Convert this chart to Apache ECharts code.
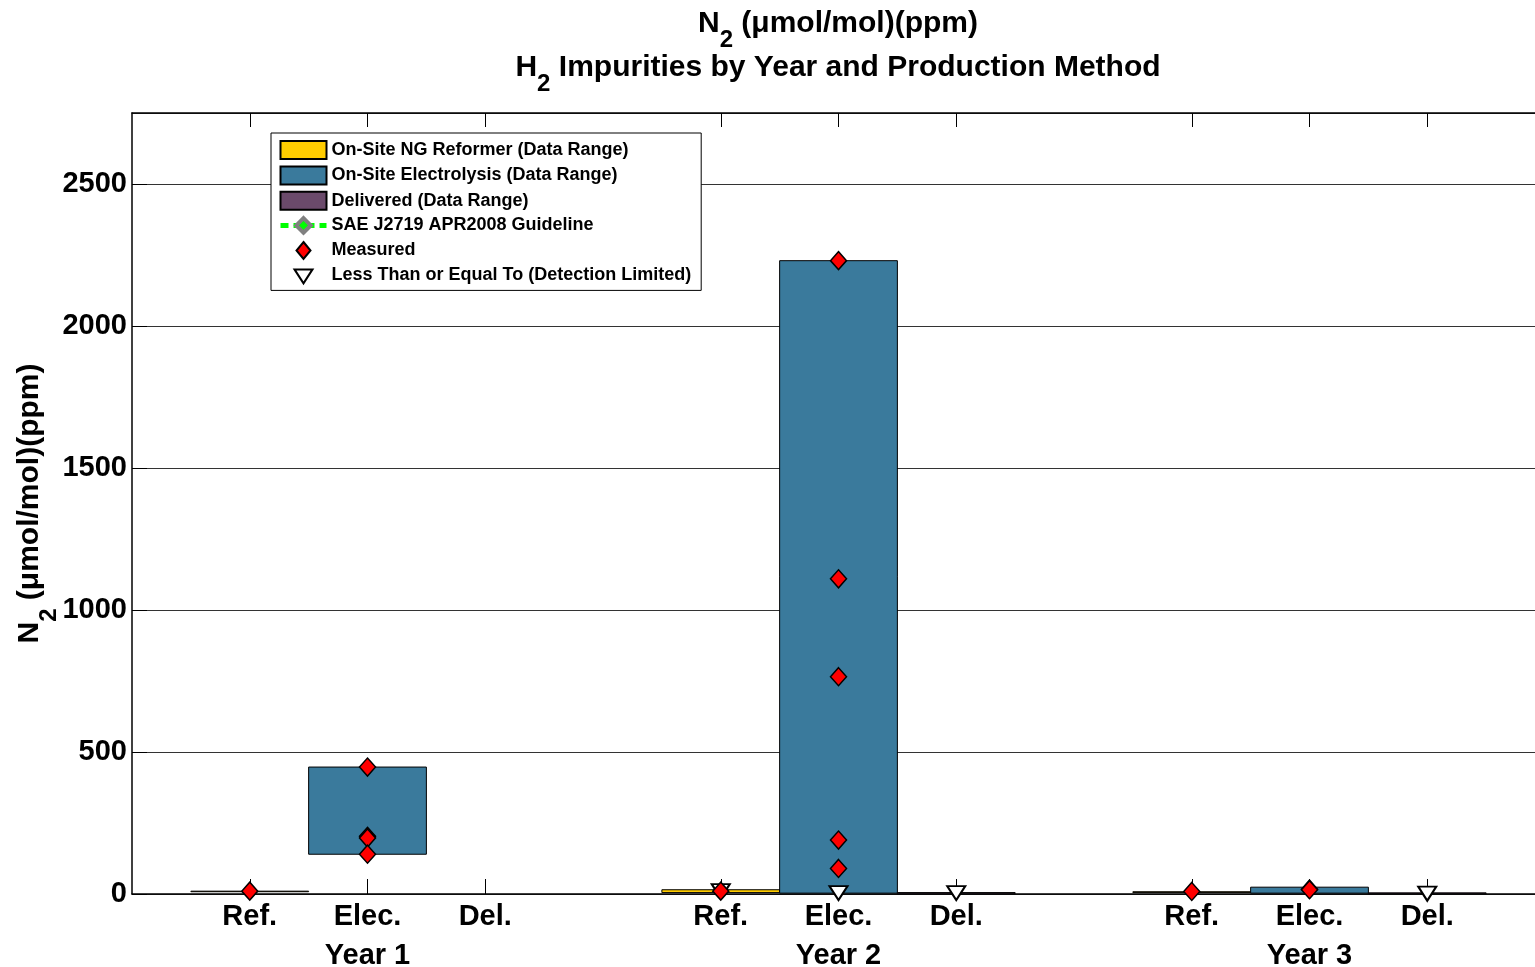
<!DOCTYPE html>
<html>
<head>
<meta charset="utf-8">
<script src="https://cdn.jsdelivr.net/npm/echarts@6/dist/echarts.min.js"></script>
<style>
html,body{margin:0;padding:0;background:#fff;}
#chart{width:1535px;height:967px;}
</style>
</head>
<body>
<div id="chart"></div>
<script>
// ---- data ----
const groupLabels = ['Year 1', 'Year 2', 'Year 3'];
const methodLabels = ['Ref.', 'Elec.', 'Del.'];
const refPos = [1, 5, 9];
const elecPos = [2, 6, 10];
const delPos = [3, 7, 11];
const yearPos = [2, 6, 10];
// [low, high] per year
const reformerRange = [[8, 10], [5, 15], [5, 8]];
const electrolysisRange = [[140, 447], [3, 2230], [3, 24]];
const deliveredRange = [null, [1, 5], [1, 4]];
// measured values: [position, value]
const measuredPoints = [
  [1, 10],
  [2, 447], [2, 203], [2, 197], [2, 140],
  [5, 10],
  [6, 2230], [6, 1110], [6, 765], [6, 190], [6, 90],
  [9, 9],
  [10, 17], [10, 15]
];
// detection limited (<=) values: [position, value]
const detectionPoints = [
  [5, 10], [6, 3], [7, 3], [11, 1]
];

const FONT = 'Liberation Sans, Arial, sans-serif';
const tickVals = refPos.concat(elecPos, delPos).sort((a, b) => a - b);
function methodName(v) {
  if (refPos.includes(v)) return methodLabels[0];
  if (elecPos.includes(v)) return methodLabels[1];
  if (delPos.includes(v)) return methodLabels[2];
  return '';
}

function rangeData(pos, ranges) {
  const out = [];
  ranges.forEach((r, i) => { if (r) out.push([pos[i], r[0], r[1]]); });
  return out;
}
function makeRangeSeries(name, color, pos, ranges) {
  return {
    name: name,
    type: 'custom',
    itemStyle: { color: color, borderColor: '#000', borderWidth: 1 },
    data: rangeData(pos, ranges),
    z: 2,
    renderItem: function (params, api) {
      const x = api.value(0), lo = api.value(1), hi = api.value(2);
      const p1 = api.coord([x - 0.5, hi]);
      const p2 = api.coord([x + 0.5, lo]);
      return {
        type: 'rect',
        shape: { x: p1[0], y: p1[1], width: p2[0] - p1[0], height: Math.max(p2[1] - p1[1], 0.5) },
        style: { fill: color, stroke: '#000', lineWidth: 1 }
      };
    }
  };
}

const chart = echarts.init(document.getElementById('chart'));
const titleMain = { fontSize: 30, fontWeight: 'bold', fontFamily: FONT, color: '#000', verticalAlign: 'top', lineHeight: 44 };
const titleSub = { fontSize: 24, fontWeight: 'bold', fontFamily: FONT, color: '#000', verticalAlign: 'top', padding: [19, 0, 0, 0], lineHeight: 44 };
const nameMain = { fontSize: 30, fontWeight: 'bold', fontFamily: FONT, color: '#000', verticalAlign: 'top' };
const nameSub = { fontSize: 24, fontWeight: 'bold', fontFamily: FONT, color: '#000', verticalAlign: 'top', padding: [22, 0, 0, 0] };
const axisFont = { fontSize: 29, fontWeight: 'bold', fontFamily: FONT, color: '#000' };

const option = {
  animation: false,
  backgroundColor: '#fff',
  title: {
    left: 838,
    top: 9,
    padding: 0,
    textAlign: 'center',
    text: '{b|N}{s|2}{b| (\u03bcmol/mol)(ppm)}\n{b|H}{s|2}{b| Impurities by Year and Production Method}',
    textStyle: { rich: { b: titleMain, s: titleSub } }
  },
  grid: { left: 132, right: -10, top: 113, bottom: 73, containLabel: false, outerBoundsMode: 'none' },
  legend: {
    orient: 'vertical',
    left: 271,
    top: 133,
    padding: [7, 10, 5, 7],
    itemGap: 5.4,
    itemWidth: 46,
    itemHeight: 18,
    selectedMode: false,
    backgroundColor: '#fff',
    borderColor: '#000',
    borderWidth: 1,
    textStyle: { fontSize: 18, lineHeight: 18, fontWeight: 'bold', fontFamily: FONT, color: '#000' },
    data: [
      { name: 'On-Site NG Reformer (Data Range)', icon: 'rect' },
      { name: 'On-Site Electrolysis (Data Range)', icon: 'rect' },
      { name: 'Delivered (Data Range)', icon: 'rect' },
      { name: 'SAE J2719 APR2008 Guideline',
        lineStyle: { color: '#00ff00', width: 5, type: [8, 5] },
        itemStyle: { color: '#00ff00', borderColor: '#808080', borderWidth: 4 } },
      { name: 'Measured', icon: 'path://M0,0M46,18M23,1L30,9.5L23,18L16,9.5Z' },
      { name: 'Less Than or Equal To (Detection Limited)', icon: 'path://M0,0M46,18M14,3L32,3L23,17Z' }
    ]
  },
  xAxis: [
    {
      type: 'value', min: 0, max: 12, position: 'bottom',
      axisLine: { show: true, onZero: false, lineStyle: { color: '#000', width: 1.5 } },
      axisTick: { show: true, inside: true, length: 15, customValues: tickVals, lineStyle: { color: '#000' } },
      axisLabel: Object.assign({ customValues: tickVals, margin: 8, formatter: v => methodName(v) }, axisFont),
      splitLine: { show: false }
    },
    {
      type: 'value', min: 0, max: 12, position: 'bottom',
      axisLine: { show: false }, axisTick: { show: false },
      axisLabel: Object.assign({ customValues: yearPos, margin: 47,
        formatter: v => groupLabels[yearPos.indexOf(v)] || '' }, axisFont),
      splitLine: { show: false }
    },
    {
      type: 'value', min: 0, max: 12, position: 'top',
      axisLine: { show: true, onZero: false, lineStyle: { color: '#000', width: 1.5 } },
      axisTick: { show: true, inside: true, length: 14, customValues: tickVals, lineStyle: { color: '#000' } },
      axisLabel: { show: false },
      splitLine: { show: false }
    }
  ],
  yAxis: {
    type: 'value', min: 0, max: 2750, interval: 500,
    name: '{b|N}{s|2}{b| (\u03bcmol/mol)(ppm)}',
    nameLocation: 'middle',
    nameGap: 71,
    nameMoveOverlap: false,
    nameTextStyle: { rich: { b: nameMain, s: nameSub } },
    axisLine: { show: true, onZero: false, lineStyle: { color: '#000', width: 1.5 } },
    axisTick: { show: true, inside: true, length: 15, lineStyle: { color: '#000' } },
    axisLabel: Object.assign({ showMaxLabel: false, margin: 5, formatter: v => String(v) }, axisFont),
    splitLine: { show: true, lineStyle: { color: '#333', width: 1 } }
  },
  series: [
    makeRangeSeries('On-Site NG Reformer (Data Range)', '#FFCC00', refPos, reformerRange),
    makeRangeSeries('On-Site Electrolysis (Data Range)', '#3A7A9C', elecPos, electrolysisRange),
    makeRangeSeries('Delivered (Data Range)', '#6B4A6B', delPos, deliveredRange),
    {
      name: 'SAE J2719 APR2008 Guideline',
      type: 'line',
      data: [],
      symbol: 'diamond',
      symbolSize: 22,
      lineStyle: { color: '#00ff00', width: 5, type: 'dashed' },
      itemStyle: { color: '#00ff00', borderColor: '#808080', borderWidth: 4 }
    },
    {
      name: 'Less Than or Equal To (Detection Limited)',
      type: 'scatter',
      data: detectionPoints,
      symbol: 'path://M0,0 L20,0 L10,16 Z',
      symbolSize: [18, 14],
      itemStyle: { color: '#fff', borderColor: '#000', borderWidth: 2, opacity: 1 },
      z: 4
    },
    {
      name: 'Measured',
      type: 'scatter',
      data: measuredPoints,
      symbol: 'diamond',
      symbolSize: [16, 18],
      itemStyle: { color: '#ff0000', borderColor: '#000', borderWidth: 1.5, opacity: 1 },
      z: 5
    }
  ]
};
chart.setOption(option);
</script>
</body>
</html>
